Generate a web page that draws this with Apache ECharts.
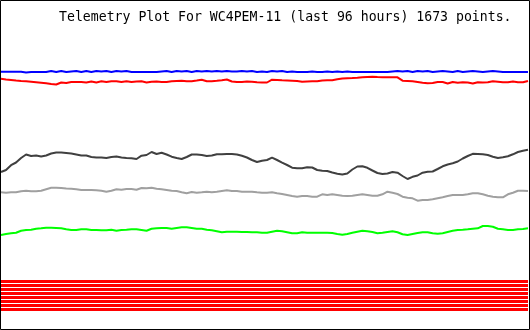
<!DOCTYPE html>
<html>
<head>
<meta charset="utf-8">
<script src="https://cdn.jsdelivr.net/npm/echarts@6/dist/echarts.min.js"></script>
<style>
html,body{margin:0;padding:0;background:#fff;}
#chart{width:530px;height:330px;}
</style>
</head>
<body>
<div id="chart"></div>
<script>
// Telemetry samples over the last 96 hours (106 evenly spaced samples, arbitrary units)
var titleText = 'Telemetry Plot For WC4PEM-11 (last 96 hours) 1673 points.';

var blueValues = [
  258.3, 258.3, 258.3, 258.3, 258.3, 257.5, 258, 258, 258, 258,
  259, 258, 259, 258, 258.5, 259, 258, 259, 258, 259,
  258.5, 259, 258, 259, 258.5, 259, 258, 258, 258, 258,
  258, 258, 258.5, 259, 258, 259, 258.5, 259, 258, 259,
  258.5, 259, 258.5, 259, 258.5, 259, 258.5, 258.5, 259, 258.5,
  259, 258, 258.5, 258, 259, 258.5, 259, 258, 258.5, 258,
  258, 258, 258.5, 258, 258, 258.5, 258, 258.5, 258, 258.5,
  258, 258, 258, 258, 258, 258, 258, 258, 258.5, 259,
  258.5, 259, 258, 259, 258.5, 259, 258, 258.5, 259, 258.5,
  258, 259, 258, 258.5, 259, 258.5, 258, 258.5, 259, 258.5,
  258, 258, 258, 258, 258, 258
];

var redValues = [
  251.3, 250.5, 250.1, 249.5, 249, 248.7, 248.3, 247.8, 247.3, 246.7,
  246, 245.5, 247.5, 247, 248, 248, 248, 247.5, 248.5, 247.5,
  248.7, 248, 248.7, 248.7, 248, 248.7, 248, 248.5, 248.7, 247.5,
  248.3, 248.5, 248, 248, 248.7, 249, 249.3, 248.7, 248.8, 249.5,
  250.3, 248.8, 248.8, 249.2, 249.7, 250.5, 248.5, 248, 248, 248.5,
  248.3, 247.7, 247.5, 247.5, 250.3, 250, 249.7, 249.5, 249.3, 249,
  248.3, 248.5, 248.7, 248.7, 249.5, 249.7, 249.7, 250.7, 251.5, 251.8,
  252, 252.3, 252.7, 253, 253.3, 253, 252.8, 252.7, 252.7, 252.7,
  249.3, 249, 248.7, 248, 247.3, 246.7, 247, 248, 248, 246.5,
  248, 247.3, 247.7, 247.5, 246.5, 247.7, 247.5, 247.7, 248.7, 248.2,
  247.7, 247.7, 248.5, 247.7, 247.7, 249
];

var blackValues = [
  158, 160, 164.8, 167.5, 172, 175.5, 174, 174.5, 173.5, 174.5,
  176.5, 177.5, 177.5, 177, 176.5, 175.5, 174.5, 174.5, 173, 172.5,
  172.5, 172, 173, 173.5, 172.5, 172, 171.7, 171, 174.3, 175,
  178, 176, 177.3, 175.5, 173.3, 172, 171, 173, 175.5, 175.5,
  175, 174, 174.5, 175.7, 175.7, 176, 176, 175.5, 174.3, 172.5,
  170, 168, 169.3, 170, 172.3, 170, 167.3, 165, 162.3, 161.7,
  161.7, 162.7, 162.5, 160, 159.3, 159, 157.5, 156.2, 155.4, 156.5,
  160.5, 163.5, 163.7, 162.2, 159.5, 157, 156, 156.5, 158, 157.3,
  154, 151, 153.2, 154.5, 157.3, 158.3, 158.5, 161, 163.7, 165.5,
  166.8, 168.5, 171.5, 174, 176.2, 176, 175.7, 175, 173.3, 172,
  172.7, 173.7, 175.7, 178, 179.2, 180.2
];

var grayValues = [
  137.7, 137.3, 137.7, 137.7, 138.7, 139.3, 138.8, 138.7, 139.2, 140.7,
  142.2, 142.3, 142, 141.5, 141.2, 140.7, 140, 140, 140, 139.7,
  139.3, 138.3, 139.3, 140.7, 140.3, 141, 141, 140.3, 142, 141.7,
  142.3, 141.3, 140.7, 140, 139.3, 139, 137.7, 136.7, 138, 137.3,
  137.7, 138.3, 137.7, 138.3, 139, 139.7, 139, 139, 138.3, 138.3,
  138.3, 137.7, 137.3, 137.3, 137.7, 136.7, 136, 135, 134, 133.3,
  134, 134, 133.3, 133.3, 135.7, 135, 135.7, 135, 134.3, 134,
  134.3, 135, 135.7, 135, 134.3, 134.3, 135.7, 138.3, 137.3, 136,
  133.3, 132.3, 131.7, 129.3, 130, 130, 130.7, 131.7, 132.7, 134,
  135, 135, 135, 135.7, 136.7, 136.7, 135.7, 134.3, 133.3, 132.7,
  132.7, 135.7, 137.3, 139.3, 139.3, 139
];

var greenValues = [
  95, 96, 96.7, 97.3, 99.3, 100, 100.3, 101.3, 101.7, 102.3,
  102.3, 102, 101.7, 100.7, 100, 100, 100.7, 100.7, 100, 100,
  99.7, 99.7, 100.3, 99.3, 100, 100.3, 100.7, 100.7, 100, 99.3,
  101.3, 101.7, 102, 102, 101.3, 102, 102.7, 102.7, 102, 101.3,
  101.3, 100.3, 99.7, 98.7, 97.7, 98.3, 98.3, 98.3, 98, 98,
  97.7, 97.7, 97.3, 97.3, 98.3, 99.3, 98.7, 97.7, 96.7, 96.7,
  97.7, 97.3, 97.3, 97.3, 97.3, 97.3, 97, 96, 95.3, 96,
  97.3, 98.3, 99.3, 98.7, 98, 96.7, 97.3, 98, 98.7, 97.7,
  95.7, 95, 96, 97, 97.7, 97.7, 96.7, 96.3, 96.7, 98,
  99.3, 100, 100.3, 100.7, 101.3, 101.7, 104, 104, 103.3, 101.3,
  100.7, 100, 100, 100.7, 101, 101.7
];

// Digital bit channels: constant levels across the whole period
var bitLevels = [48.5, 44.5, 40.5, 36.5, 32.5, 28.5, 24.5, 20.5];

var N = blackValues.length;
var categories = [];
for (var i = 0; i < N; i++) categories.push(String(i));

function lineSeries(data, color, width) {
  return {
    type: 'line', data: data, symbol: 'none', silent: true,
    lineStyle: { color: color, width: width }, itemStyle: { color: color }
  };
}

var series = [
  lineSeries(blueValues, '#0000ff', 2),
  lineSeries(redValues, '#ff0000', 2),
  lineSeries(blackValues, '#404040', 2),
  lineSeries(grayValues, '#a0a0a0', 2),
  lineSeries(greenValues, '#00ff00', 2)
];
bitLevels.forEach(function (lvl) {
  series.push(lineSeries([[0, lvl], [N - 1, lvl]], '#ff0000', 3));
});

var chart = echarts.init(document.getElementById('chart'), null, { renderer: 'canvas' });
chart.setOption({
  animation: false,
  backgroundColor: '#ffffff',
  grid: { left: 1, right: 2, top: 0, bottom: 0, containLabel: false },
  xAxis: {
    type: 'category', data: categories, boundaryGap: false, show: false
  },
  yAxis: {
    type: 'value', min: 0, max: 330, show: false
  },
  series: series,
  graphic: [
    {
      type: 'text', left: 59, top: 11, z: 10,
      style: { text: titleText, font: '13.2px "DejaVu Sans Mono", "Liberation Mono", monospace', fill: '#000000' }
    },
    {
      type: 'rect', z: 10, silent: true,
      shape: { x: 0.5, y: 0.5, width: 529, height: 329 },
      style: { fill: 'none', stroke: '#000000', lineWidth: 1 }
    }
  ]
});
</script>
</body>
</html>
